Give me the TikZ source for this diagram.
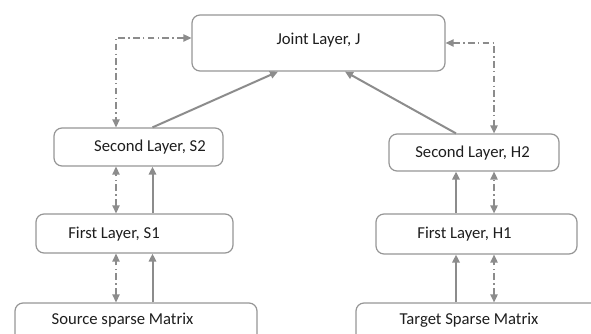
\documentclass[tikz,border=0pt]{standalone}
\usepackage{fontspec}
\setmainfont{Carlito}
\usetikzlibrary{arrows.meta, calc}
\definecolor{boxgray}{RGB}{150,150,150}
\definecolor{linegray}{RGB}{140,140,140}
\definecolor{txtgray}{RGB}{30,30,30}

\begin{document}
\begin{tikzpicture}[x=0.75pt, y=-0.75pt,
    layer/.style={draw=boxgray, line width=0.9pt, rounded corners=6pt, fill=white, inner sep=0pt},
    layertext/.style={text=txtgray, font=\fontsize{12.5}{14}\selectfont, inner sep=0pt},
    flow/.style={draw=linegray, line width=1.5pt, -{Triangle[length=6pt, width=5.5pt]}},
    link/.style={draw=linegray, line width=1.2pt, dash pattern=on 5pt off 2.5pt on 1pt off 2.5pt,
                 {Triangle[length=6pt, width=5.5pt]}-{Triangle[length=6pt, width=5.5pt]}}]
    \useasboundingbox (0,0) rectangle (591,334);
    \clip (0,0) rectangle (591,334);

    %% boxes
    \node[layer, minimum width=253*0.75pt, minimum height=56*0.75pt] (jnt) at (318.5,43) {};
    \node[layer, minimum width=169*0.75pt, minimum height=38*0.75pt] (s2) at (138.5,147) {};
    \node[layer, minimum width=170*0.75pt, minimum height=37*0.75pt] (h2) at (474,152.5) {};
    \node[layer, minimum width=197*0.75pt, minimum height=39*0.75pt] (s1) at (134.5,233.5) {};
    \node[layer, minimum width=201*0.75pt, minimum height=40*0.75pt] (h1) at (476.5,234) {};
    \node[layer, minimum width=242*0.75pt, minimum height=50*0.75pt] (src) at (136,328) {};
    \node[layer, minimum width=260*0.75pt, minimum height=50*0.75pt] (tgt) at (486,328) {};

    %% box texts
    \node[layertext] (jnt txt) at (318.5,40) {Joint Layer, J};
    \node[layertext] (s2 txt) at (150,147) {Second Layer, S2};
    \node[layertext] (h2 txt) at (472.5,153) {Second Layer, H2};
    \node[layertext] (s1 txt) at (114,234) {First Layer, S1};
    \node[layertext] (h1 txt) at (464.5,234) {First Layer, H1};
    \node[layertext] (src txt) at (122.5,320) {Source sparse Matrix};
    \node[layertext] (tgt txt) at (469,320) {Target Sparse Matrix};

    %% columns of the vertical arrows
    \coordinate (lsol) at (152.5,0);
    \coordinate (ldd) at (116,0);
    \coordinate (rsol) at (456,0);
    \coordinate (rdd) at (494,0);

    %% solid arrows, bottom up
    \draw[flow] (src.north -| lsol) -- (s1.south -| lsol);
    \draw[flow] (s1.north -| lsol) -- (s2.south -| lsol);
    \draw[flow] (s2.north -| lsol) -- ($(jnt.south)+(-40.5,0)$);
    \draw[flow] (tgt.north -| rsol) -- (h1.south -| rsol);
    \draw[flow] (h1.north -| rsol) -- (h2.south -| rsol);
    \draw[flow] (h2.north -| rsol) -- ($(jnt.south)+(26.5,0)$);

    %% dash-dot links
    \draw[link] (src.north -| ldd) -- (s1.south -| ldd);
    \draw[link] (s1.north -| ldd) -- (s2.south -| ldd);
    \draw[link] ($(jnt.west)+(0,-5)$) -| (s2.north -| ldd);
    \draw[link] (tgt.north -| rdd) -- (h1.south -| rdd);
    \draw[link] (h1.north -| rdd) -- (h2.south -| rdd);
    \draw[link] (jnt.east) -| (h2.north -| rdd);
\end{tikzpicture}
\end{document}
